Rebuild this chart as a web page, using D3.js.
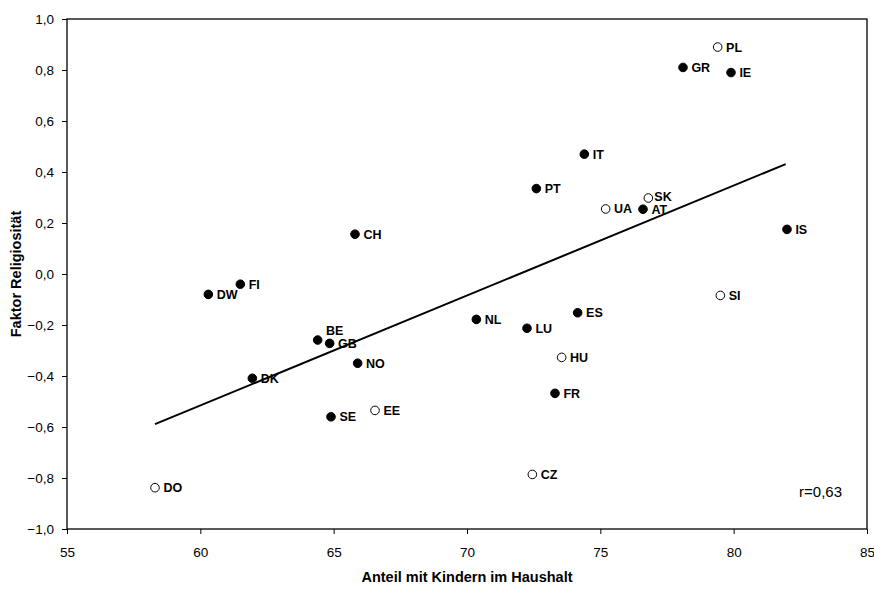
<!DOCTYPE html>
<html>
<head>
<meta charset="utf-8">
<script src="https://cdn.jsdelivr.net/npm/d3@7"></script>
<style>
  body { margin: 0; background: #fff; }
  svg { font-family: "Liberation Sans", Arial, sans-serif; }
</style>
</head>
<body>
<svg id="chart" width="874" height="590"></svg>
<script>
// country codes, x = Anteil mit Kindern, y = Faktor Religiosität, open = hollow marker
var countries = ["PL", "GR", "IE", "IT", "PT", "SK", "UA", "AT", "IS", "CH", "FI", "DW",
  "NL", "LU", "ES", "SI", "BE", "GB", "NO", "HU", "DK", "FR", "EE", "SE", "CZ", "DO"];
var anteil = [79.4, 78.1, 79.9, 74.4, 72.6, 76.8, 75.2, 76.6, 82.0, 65.8, 61.5, 60.3,
  70.35, 72.25, 74.15, 79.5, 64.4, 64.85, 65.9, 73.55, 61.95, 73.3, 66.55, 64.9, 72.45, 58.3];
var religio = [0.89, 0.81, 0.79, 0.47, 0.335, 0.298, 0.255, 0.254, 0.175, 0.156, -0.04, -0.08,
  -0.178, -0.213, -0.152, -0.084, -0.259, -0.272, -0.35, -0.327, -0.409, -0.468, -0.535, -0.56, -0.786, -0.838];
var hollow = [1, 0, 0, 0, 0, 1, 1, 0, 0, 0, 0, 0,
  0, 0, 0, 1, 0, 0, 0, 1, 0, 0, 1, 0, 1, 1];

// regression line end points
var fitX = [58.3, 81.95];
var fitY = [-0.589, 0.431];

var xTicks = [55, 60, 65, 70, 75, 80, 85];
var yTicks = [-1.0, -0.8, -0.6, -0.4, -0.2, 0.0, 0.2, 0.4, 0.6, 0.8, 1.0];

var svg = d3.select("#chart");
var pLeft = 67, pRight = 867, pTop = 19, pBottom = 529;

var x = d3.scaleLinear().domain([55, 85]).range([pLeft, pRight]);
var y = d3.scaleLinear().domain([-1, 1]).range([pBottom, pTop]);
var fmt = function (d) { return d3.format(".1f")(d).replace(".", ","); };

var xAxis = svg.append("g")
  .attr("transform", "translate(0," + pBottom + ")")
  .call(d3.axisBottom(x).tickValues(xTicks).tickSize(5).tickSizeOuter(0).tickPadding(13));
var yAxis = svg.append("g")
  .attr("transform", "translate(" + pLeft + ",0)")
  .call(d3.axisLeft(y).tickValues(yTicks).tickFormat(fmt).tickSize(5).tickSizeOuter(0).tickPadding(8));

[xAxis, yAxis].forEach(function (g) {
  g.select(".domain").remove();
  g.selectAll("line").attr("stroke", "#000").attr("stroke-width", 1);
  g.selectAll("text").attr("font-size", 13.5).attr("fill", "#000")
    .attr("font-family", "'Liberation Sans', Arial, sans-serif");
});

// frame
svg.append("rect")
  .attr("x", pLeft).attr("y", pTop)
  .attr("width", pRight - pLeft).attr("height", pBottom - pTop)
  .attr("fill", "none").attr("stroke", "#000").attr("stroke-width", 1.3);

// fit line
svg.append("line")
  .attr("x1", x(fitX[0])).attr("y1", y(fitY[0]))
  .attr("x2", x(fitX[1])).attr("y2", y(fitY[1]))
  .attr("stroke", "#000").attr("stroke-width", 2);

var pts = countries.map(function (c, i) {
  return { name: c, x: anteil[i], y: religio[i], open: hollow[i] === 1 };
});

svg.append("g").selectAll("circle")
  .data(pts)
  .join("circle")
  .attr("cx", function (d) { return x(d.x); })
  .attr("cy", function (d) { return y(d.y); })
  .attr("r", 4.3)
  .attr("fill", function (d) { return d.open ? "#fff" : "#000"; })
  .attr("stroke", "#000")
  .attr("stroke-width", 1);

// labels: BE sits above its point, SK is nudged up a little
svg.append("g").selectAll("text")
  .data(pts)
  .join("text")
  .attr("x", function (d) { return x(d.x) + (d.name === "SK" ? 6 : 8.4); })
  .attr("y", function (d) {
    if (d.name === "BE") return y(d.y) - 5;
    if (d.name === "SK") return y(d.y) + 3;
    return y(d.y) + 4.5;
  })
  .attr("font-size", 12.5)
  .attr("font-weight", "bold")
  .text(function (d) { return d.name; });

svg.append("text")
  .attr("x", 842).attr("y", 497)
  .attr("text-anchor", "end")
  .attr("font-size", 15)
  .text("r=0,63");

svg.append("text")
  .attr("x", (pLeft + pRight) / 2).attr("y", 582)
  .attr("text-anchor", "middle")
  .attr("font-size", 14.5)
  .attr("font-weight", "bold")
  .text("Anteil mit Kindern im Haushalt");

svg.append("text")
  .attr("transform", "translate(21," + ((pTop + pBottom) / 2) + ") rotate(-90)")
  .attr("text-anchor", "middle")
  .attr("font-size", 14.5)
  .attr("font-weight", "bold")
  .text("Faktor Religiosität");
</script>
</body>
</html>
